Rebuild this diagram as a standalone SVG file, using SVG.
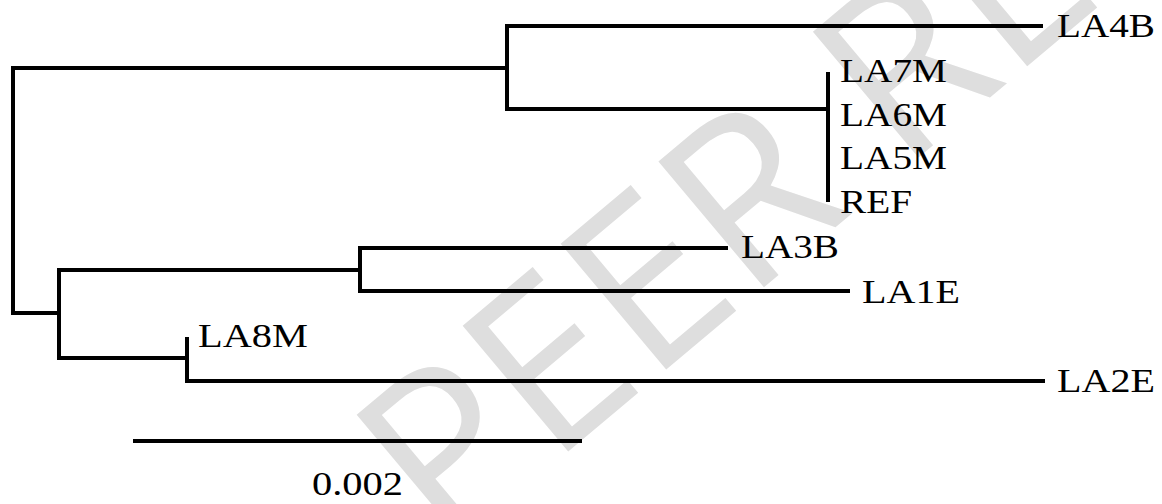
<svg xmlns="http://www.w3.org/2000/svg" width="1162" height="504" viewBox="0 0 1162 504">
<style>
.br{fill:none;stroke:#000;stroke-width:4;stroke-linejoin:miter;stroke-linecap:butt}
.lb{font-family:"Liberation Serif","Times New Roman",serif;font-size:33px;fill:#000}
.wm{font-family:"Open Sans","DejaVu Sans",sans-serif;font-size:230px;fill:#dedede}
</style>
<rect width="1162" height="504" fill="#fff"/>
<g id="watermark"><text class="wm" transform="translate(445,555) rotate(-40)">PEER REVIEW</text></g>
<g id="connectors">
<path class="br" d="M507,68 H13 V313 H59"/>
<path class="br" d="M1043,26 H507 V109 H828"/>
<path class="br" d="M828,72 V202"/>
<path class="br" d="M360,270 H59 V358 H187"/>
<path class="br" d="M728,248 H360 V291 H850"/>
<path class="br" d="M187,337 V381 H1045"/>
</g>
<g id="LA4B"><text class="lb" x="1057" y="37" textLength="98" lengthAdjust="spacingAndGlyphs">LA4B</text></g>
<g id="LA7M"><text class="lb" x="840" y="82" textLength="107" lengthAdjust="spacingAndGlyphs">LA7M</text></g>
<g id="LA6M"><text class="lb" x="840" y="126" textLength="107" lengthAdjust="spacingAndGlyphs">LA6M</text></g>
<g id="LA5M"><text class="lb" x="840" y="169" textLength="107" lengthAdjust="spacingAndGlyphs">LA5M</text></g>
<g id="REF"><text class="lb" x="840" y="213" textLength="72" lengthAdjust="spacingAndGlyphs">REF</text></g>
<g id="LA3B"><text class="lb" x="741" y="258" textLength="98" lengthAdjust="spacingAndGlyphs">LA3B</text></g>
<g id="LA1E"><text class="lb" x="862" y="303" textLength="98" lengthAdjust="spacingAndGlyphs">LA1E</text></g>
<g id="LA8M"><text class="lb" x="198" y="347" textLength="110" lengthAdjust="spacingAndGlyphs">LA8M</text></g>
<g id="LA2E"><text class="lb" x="1057" y="392" textLength="98" lengthAdjust="spacingAndGlyphs">LA2E</text></g>
<g id="scale-bar">
<path class="br" d="M133,441 H582"/>
<text class="lb" x="312" y="495" textLength="91" lengthAdjust="spacingAndGlyphs">0.002</text>
</g>
</svg>
